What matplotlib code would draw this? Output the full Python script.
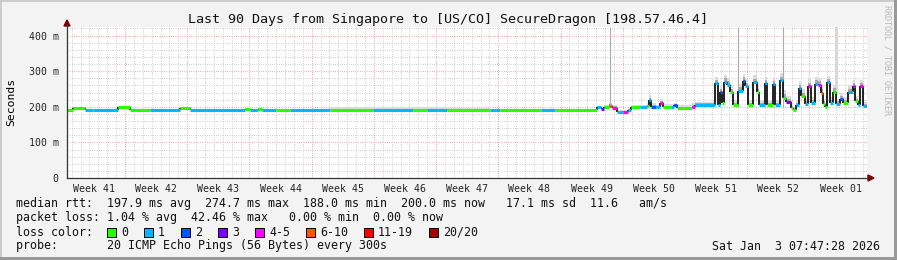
import numpy as np
import matplotlib
matplotlib.use('Agg')
import matplotlib.pyplot as plt
from matplotlib.collections import LineCollection
from matplotlib.patches import Rectangle, Polygon

# smokeping 90 day graph
# x is days since start of the graph, y is median rtt in ms

title = 'Last 90 Days from Singapore to [US/CO] SecureDragon [198.57.46.4]'
week_labels = ['Week 41', 'Week 42', 'Week 43', 'Week 44', 'Week 45', 'Week 46', 'Week 47',
               'Week 48', 'Week 49', 'Week 50', 'Week 51', 'Week 52', 'Week 01']
y_ticks = [0, 100, 200, 300, 400]
y_tick_labels = ['0', '100 m', '200 m', '300 m', '400 m']

t_day = [0.0, 0.7, 2.0, 2.9, 5.7, 7.1, 9.3, 12.7, 13.8, 20.0, 20.6, 21.5, 21.9, 23.5,
         25.1, 29.6, 34.4, 38.9, 40.5, 42.8, 47.6, 48.7, 53.3, 54.9, 59.6, 60.1, 60.4,
         61.0, 61.3, 61.9, 62.6, 63.1, 63.5, 64.5, 65.3, 65.5, 65.7, 66.3, 66.7, 67.0,
         67.9, 68.3, 68.6, 70.3, 70.6, 72.9, 73.2, 73.5, 73.7, 73.9, 74.3, 74.6, 74.9,
         75.5, 76.0, 76.3, 76.6, 77.2, 77.6, 77.9, 78.5, 78.8, 79.4, 79.7, 80.2, 80.5,
         80.9, 81.4, 81.7, 82.0, 82.3, 82.6, 83.0, 83.4, 83.7, 84.2, 84.5, 84.8, 85.1,
         85.3, 85.5, 85.8, 86.2, 86.5, 87.0, 87.3, 87.9, 88.4, 88.7, 89.0, 89.2, 89.5]
rtt_ms = [191, 197, 192, 190, 198, 191, 190, 196, 190, 194, 190, 195, 190, 190,
          190, 190, 190, 190, 190, 190, 190, 190, 190, 190, 198, 193, 199,
          203, 197, 186, 186, 190, 198, 199, 202, 219, 200, 198, 211, 199,
          199, 204, 197, 200, 205, 266, 205, 242, 210, 270, 262, 242, 205,
          245, 273, 258, 205, 270, 242, 205, 266, 205, 263, 205, 274, 226,
          214, 196, 191, 205, 252, 230, 208, 257, 212, 264, 262, 240, 208,
          200, 269, 212, 242, 208, 222, 212, 242, 258, 215, 205, 258, 203]
loss_idx = [0, 0, 1, 1, 0, 0, 1, 0, 1, 0, 1, 0, 1, 0,
            1, 0, 1, 0, 1, 0, 1, 0, 1, 0, 1, 3, 0,
            5, 4, 1, 4, 1, 0, 1, 0, 1, 2, 1, 4, 0,
            1, 2, 0, 4, 1, 1, 1, 2, 0, 1, 1, 0, 0,
            1, 2, 1, 0, 1, 0, 1, 1, 0, 1, 1, 1, 0,
            3, 0, 0, 1, 1, 0, 1, 4, 1, 1, 4, 5, 0,
            0, 1, 1, 0, 1, 2, 0, 1, 4, 0, 1, 4, 1]
smoke_top = [193, 199, 194, 192, 200, 193, 192, 198, 192, 196, 192, 197, 192, 192,
             194, 198, 199, 198, 200, 196, 194, 193, 194, 193, 203, 200, 205,
             212, 205, 192, 192, 196, 204, 206, 210, 232, 210, 205, 222, 207,
             207, 210, 204, 212, 214, 284, 218, 260, 224, 290, 282, 260, 218,
             264, 292, 278, 218, 288, 260, 218, 284, 218, 282, 218, 294, 248,
             230, 206, 200, 218, 272, 250, 222, 277, 228, 284, 282, 260, 222,
             212, 287, 228, 262, 222, 240, 228, 260, 276, 230, 218, 274, 214]

# single tall max-ping lines
spike_day = [61.1, 75.5, 80.6]
spike_top = [424, 424, 424]
band_day = [86.4, 86.75]
band_range = [232, 424]

loss_labels = ['0', '1', '2', '3', '4-5', '6-10', '11-19', '20/20']
loss_colors = ['#26ff00', '#00b8ff', '#0059ff', '#7e00ff', '#ff00ff', '#ff5500', '#ff0000', '#a10000']

W, H = 897, 260
def fx(px): return px / W
def fy(py): return 1 - py / H

mono = 'DejaVu Sans Mono'
fig = plt.figure(figsize=(W / 100, H / 100), dpi=100, facecolor='#f3f3f3')
ax = fig.add_axes([fx(67), fy(178), 800 / W, 151 / H])
ax.set_facecolor('white')
ax.set_xlim(0, 90)
ax.set_ylim(0, 424)
for s in ax.spines.values():
    s.set_visible(False)

# grid
week0 = 6.53
dots = (0, (0.72, 1.44))
for d in np.arange(week0 % 1, 90, 1.0):
    if abs(((d - week0) / 7) - round((d - week0) / 7)) > 0.01:
        ax.axvline(d, color='#c4c4c4', lw=0.75, ls=dots, zorder=0)
for v in range(20, 424, 20):
    if v % 100:
        ax.axhline(v, color='#c4c4c4', lw=0.75, ls=dots, zorder=0)
for d in np.arange(week0, 90, 7.0):
    ax.axvline(d, color='#ec9090', lw=0.75, ls=dots, zorder=0.5)
for v in y_ticks[1:]:
    ax.axhline(v, color='#ec9090', lw=0.75, ls=dots, zorder=0.5)

# smoke: light haze plus darker core
t_edges = t_day + [90]
lo = rtt_ms + [rtt_ms[-1]]
hi = smoke_top + [smoke_top[-1]]
core = [(a + b) / 2 for a, b in zip(lo, hi)]
ax.fill_between(t_edges, lo, hi, step='post', color='#dcdcdc', lw=0, zorder=1)
ax.fill_between(t_edges, lo, core, step='post', color='#a8a8a8', lw=0, zorder=1.1)
ax.vlines(spike_day, 200, spike_top, color='#aaaaaa', lw=0.8, zorder=1)
ax.fill_between(band_day, band_range[0], band_range[1], color='#d8d8d8', lw=0, zorder=1)

# median line coloured by loss, black risers
horiz = [[(t_edges[i], rtt_ms[i]), (t_edges[i + 1], rtt_ms[i])] for i in range(len(rtt_ms))]
risers = [[(t_day[i], rtt_ms[i - 1]), (t_day[i], rtt_ms[i])] for i in range(1, len(rtt_ms))]
ax.add_collection(LineCollection(risers, colors='#111111', linewidths=1.3, zorder=2))
ax.add_collection(LineCollection(horiz, colors=[loss_colors[k] for k in loss_idx],
                                 linewidths=2.2, zorder=3))

# ticks
ax.set_yticks(y_ticks, y_tick_labels, family=mono, fontsize=7.1)
ax.set_xticks(np.arange(week0 - 3.5, 90, 7.0), week_labels, family=mono, fontsize=7.1)
ax.tick_params(axis='both', length=0, colors='#222222')
ax.tick_params(axis='y', pad=6)
ax.tick_params(axis='x', pad=4)

# axes with arrows
ax_col = '#333333'
arr = '#7f0000'
fig.add_artist(plt.Line2D([fx(67), fx(67)], [fy(178), fy(24)], color=ax_col, lw=0.9))
fig.add_artist(plt.Line2D([fx(67), fx(870)], [fy(178), fy(178)], color=ax_col, lw=0.9))
fig.add_artist(Polygon([(fx(64), fy(26)), (fx(70), fy(26)), (fx(67), fy(20))], closed=True, color=arr))
fig.add_artist(Polygon([(fx(868), fy(175)), (fx(868), fy(181)), (fx(874), fy(178))], closed=True, color=arr))

# texts
fig.text(fx(448), fy(19), title, ha='center', va='center', family=mono, fontsize=9.6, color='#111111')
fig.text(fx(11), fy(102), 'Seconds', rotation=90, ha='center', va='center', family=mono, fontsize=8.2)
fig.text(fx(887), fy(60), 'RRDTOOL / TOBI OETIKER', rotation=270, ha='center', va='center',
         family=mono, fontsize=6, color='#b8b8b8')

line1 = 'median rtt:  197.9 ms avg  274.7 ms max  188.0 ms min  200.0 ms now   17.1 ms sd  11.6   am/s'
line2 = 'packet loss: 1.04 % avg  42.46 % max   0.00 % min  0.00 % now'
line4 = 'probe:       20 ICMP Echo Pings (56 Bytes) every 300s'
for txt, y in [(line1, 204), (line2, 218), ('loss color:', 232), (line4, 246)]:
    fig.text(fx(16), fy(y), txt, ha='left', va='center', family=mono, fontsize=8.4, color='#111111')
fig.text(fx(880), fy(246), 'Sat Jan  3 07:47:28 2026', ha='right', va='center',
         family=mono, fontsize=8.4, color='#111111')

bx = 107
for lab, col in zip(loss_labels, loss_colors):
    fig.add_artist(Rectangle((fx(bx), fy(237)), 9 / W, 9 / H, facecolor=col,
                             edgecolor='black', lw=0.7))
    fig.text(fx(bx + 14), fy(232), lab, ha='left', va='center', family=mono, fontsize=8.4, color='#111111')
    bx += 30 + 7 * len(lab)

# rrdtool style frame
fig.add_artist(Rectangle((0, fy(2)), 1, 2 / H, color='#cbcbcb', lw=0))
fig.add_artist(Rectangle((0, 0), 2 / W, 1, color='#cbcbcb', lw=0))
fig.add_artist(Rectangle((0, 0), 1, 3 / H, color='#999999', lw=0))
fig.add_artist(Rectangle((fx(894), 0), 3 / W, 1, color='#999999', lw=0))

fig.savefig('out.png', dpi=100, facecolor=fig.get_facecolor())
